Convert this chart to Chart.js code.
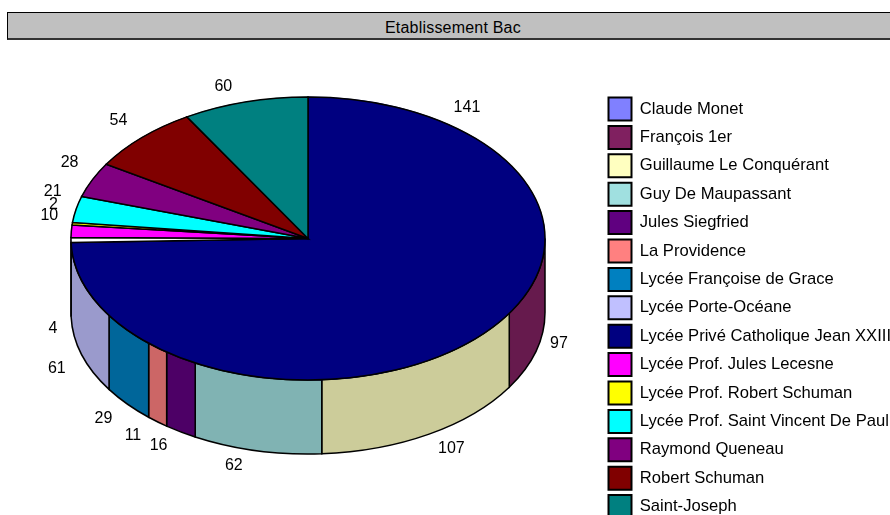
<!DOCTYPE html>
<html lang="fr">
<head>
    <meta charset="UTF-8">
    <title>Etablissement Bac</title>
    <script src="https://cdn.jsdelivr.net/npm/chart.js"></script>
    <style>
        html, body { margin: 0; padding: 0; width: 890px; height: 515px; overflow: hidden; background: #fff; }
        #titleBar {
            position: absolute; left: 7px; top: 12px; width: 900px; height: 25px;
            background: #c0c0c0; border: 1px solid #000; border-bottom: 2px solid #333;
            font: 16px "Liberation Sans", Arial, sans-serif; color: #000;
        }
        #titleBar span { position: absolute; left: 377px; top: 7px; line-height: 16px; white-space: nowrap; letter-spacing: 0.2px; }
        #myChart { position: absolute; left: 0; top: 0; }
    </style>
</head>
<body>
    <canvas id="myChart" width="930" height="515" style="width:930px;height:515px"></canvas>
    <div id="titleBar"><span>Etablissement Bac</span></div>
    <script>
        const categories = ['Claude Monet', 'François 1er', 'Guillaume Le Conquérant', 'Guy De Maupassant',
            'Jules Siegfried', 'La Providence', 'Lycée Françoise de Grace', 'Lycée Porte-Océane',
            'Lycée Privé Catholique Jean XXIII', 'Lycée Prof. Jules Lecesne', 'Lycée Prof. Robert Schuman',
            'Lycée Prof. Saint Vincent De Paul', 'Raymond Queneau', 'Robert Schuman', 'Saint-Joseph'];
        const values = [141, 97, 107, 62, 16, 11, 29, 61, 4, 10, 2, 21, 28, 54, 60];

        // legend colours
        const legendColors = ['#8080ff', '#802060', '#ffffc0', '#a0e0e0', '#600080', '#ff8080', '#0080c0', '#c0c0ff',
            '#000080', '#ff00ff', '#ffff00', '#00ffff', '#800080', '#800000', '#008080'];
        // what the top face shows: the navy slice swallows everything up to Porte-Océane
        const topColors = ['#000080', '#000080', '#000080', '#000080', '#000080', '#000080', '#000080', '#000080',
            '#ffffff', '#ff00ff', '#ffff00', '#00ffff', '#800080', '#800000', '#008080'];
        const wallColors = ['#6666cc', '#661a4d', '#cccc9a', '#80b3b3', '#4d0066', '#cc6666', '#00669a', '#9a9acc',
            '#000080', '#cc00cc', '#cccc00', '#00cccc', '#660066', '#660000', '#006666'];

        // pie geometry on the page
        const CX = 308, CY = 238.5, RX = 237, RY = 141.5, DEPTH = 74;
        const labelGap = 26;
        const labelNudge = [[4, 4], [-10, 11], [9, -8], [-17, -10], [-8, -8], [-8, -6], [-4, -2], [0, 6],
            [8, 14], [4, -14], [7, -16], [2, -12], [1, -7], [-5, 1], [-15, 10]];

        function arcPath(ctx, a0, a1, dy, reverse) {
            ctx.ellipse(CX, CY + dy, RX, RY, 0, a0, a1, reverse);
        }

        const pie3d = {
            id: 'pie3d',
            afterLayout(chart) {
                // legend starts at the same place as the original, runs off the page
                const legend = chart.legend;
                const pad = legend.options.labels.padding;
                legend.left = 608.5 - pad;
                legend.right = legend.left + legend.width;
                legend.top = 97.5 - pad;
                legend.bottom = legend.top + legend.height;
            },
            beforeDatasetDraw(chart) {
                const ctx = chart.ctx;
                const arcs = chart.getDatasetMeta(0).data;
                ctx.save();
                ctx.lineWidth = 1.5;
                ctx.strokeStyle = '#000';
                // side wall, only the front half can be seen
                arcs.forEach((arc, i) => {
                    const a0 = Math.max(arc.startAngle, 0);
                    const a1 = Math.min(arc.endAngle, Math.PI);
                    if (a1 <= a0) return;
                    ctx.beginPath();
                    arcPath(ctx, a0, a1, 0, false);
                    arcPath(ctx, a1, a0, DEPTH, true);
                    ctx.closePath();
                    ctx.fillStyle = wallColors[i];
                    ctx.fill();
                    ctx.stroke();
                });
                ctx.restore();
                // squash the library's pie into the top face
                const first = arcs[0];
                ctx.save();
                ctx.translate(CX, CY);
                ctx.scale(RX / first.outerRadius, RY / first.outerRadius);
                ctx.translate(-first.x, -first.y);
            },
            afterDatasetDraw(chart) {
                const ctx = chart.ctx;
                ctx.restore();
                const arcs = chart.getDatasetMeta(0).data;
                ctx.save();
                ctx.lineWidth = 1.5;
                ctx.strokeStyle = '#000';
                // outlines, slices of the same colour count as one (fill hides the seams)
                let i = 0;
                while (i < arcs.length) {
                    let j = i;
                    while (j + 1 < arcs.length && topColors[j + 1] === topColors[i]) j++;
                    ctx.beginPath();
                    ctx.moveTo(CX, CY);
                    arcPath(ctx, arcs[i].startAngle, arcs[j].endAngle, 0, false);
                    ctx.closePath();
                    ctx.fillStyle = topColors[i];
                    ctx.fill();
                    ctx.stroke();
                    i = j + 1;
                }
                // value labels
                ctx.fillStyle = '#000';
                ctx.font = '16px "Liberation Sans", Arial, sans-serif';
                ctx.textAlign = 'center';
                ctx.textBaseline = 'middle';
                arcs.forEach((arc, k) => {
                    const mid = (arc.startAngle + arc.endAngle) / 2;
                    const s = Math.sin(mid);
                    let x = CX + (RX + labelGap) * Math.cos(mid);
                    let y = CY + (RY + labelGap) * s + (s > 0 ? DEPTH : 0);
                    ctx.fillText(String(values[k]), x + labelNudge[k][0], y + labelNudge[k][1]);
                });
                ctx.restore();
            }
        };

        new Chart(document.getElementById('myChart'), {
            type: 'pie',
            data: {
                labels: categories,
                datasets: [{
                    data: values,
                    backgroundColor: topColors,
                    borderColor: topColors,
                    borderWidth: 1,
                }],
            },
            plugins: [pie3d],
            options: {
                responsive: false,
                animation: false,
                plugins: {
                    tooltip: { enabled: false },
                    legend: {
                        position: 'right',
                        align: 'start',
                        labels: {
                            boxWidth: 23,
                            boxHeight: 23,
                            padding: 5.4,
                            color: '#000',
                            font: { family: '"Liberation Sans", Arial, sans-serif', size: 16.6 },
                            generateLabels(chart) {
                                return categories.map((name, i) => ({
                                    text: name,
                                    fillStyle: legendColors[i],
                                    strokeStyle: '#000',
                                    lineWidth: 2,
                                    index: i,
                                }));
                            },
                        },
                    },
                },
            },
        });
    </script>
</body>
</html>
